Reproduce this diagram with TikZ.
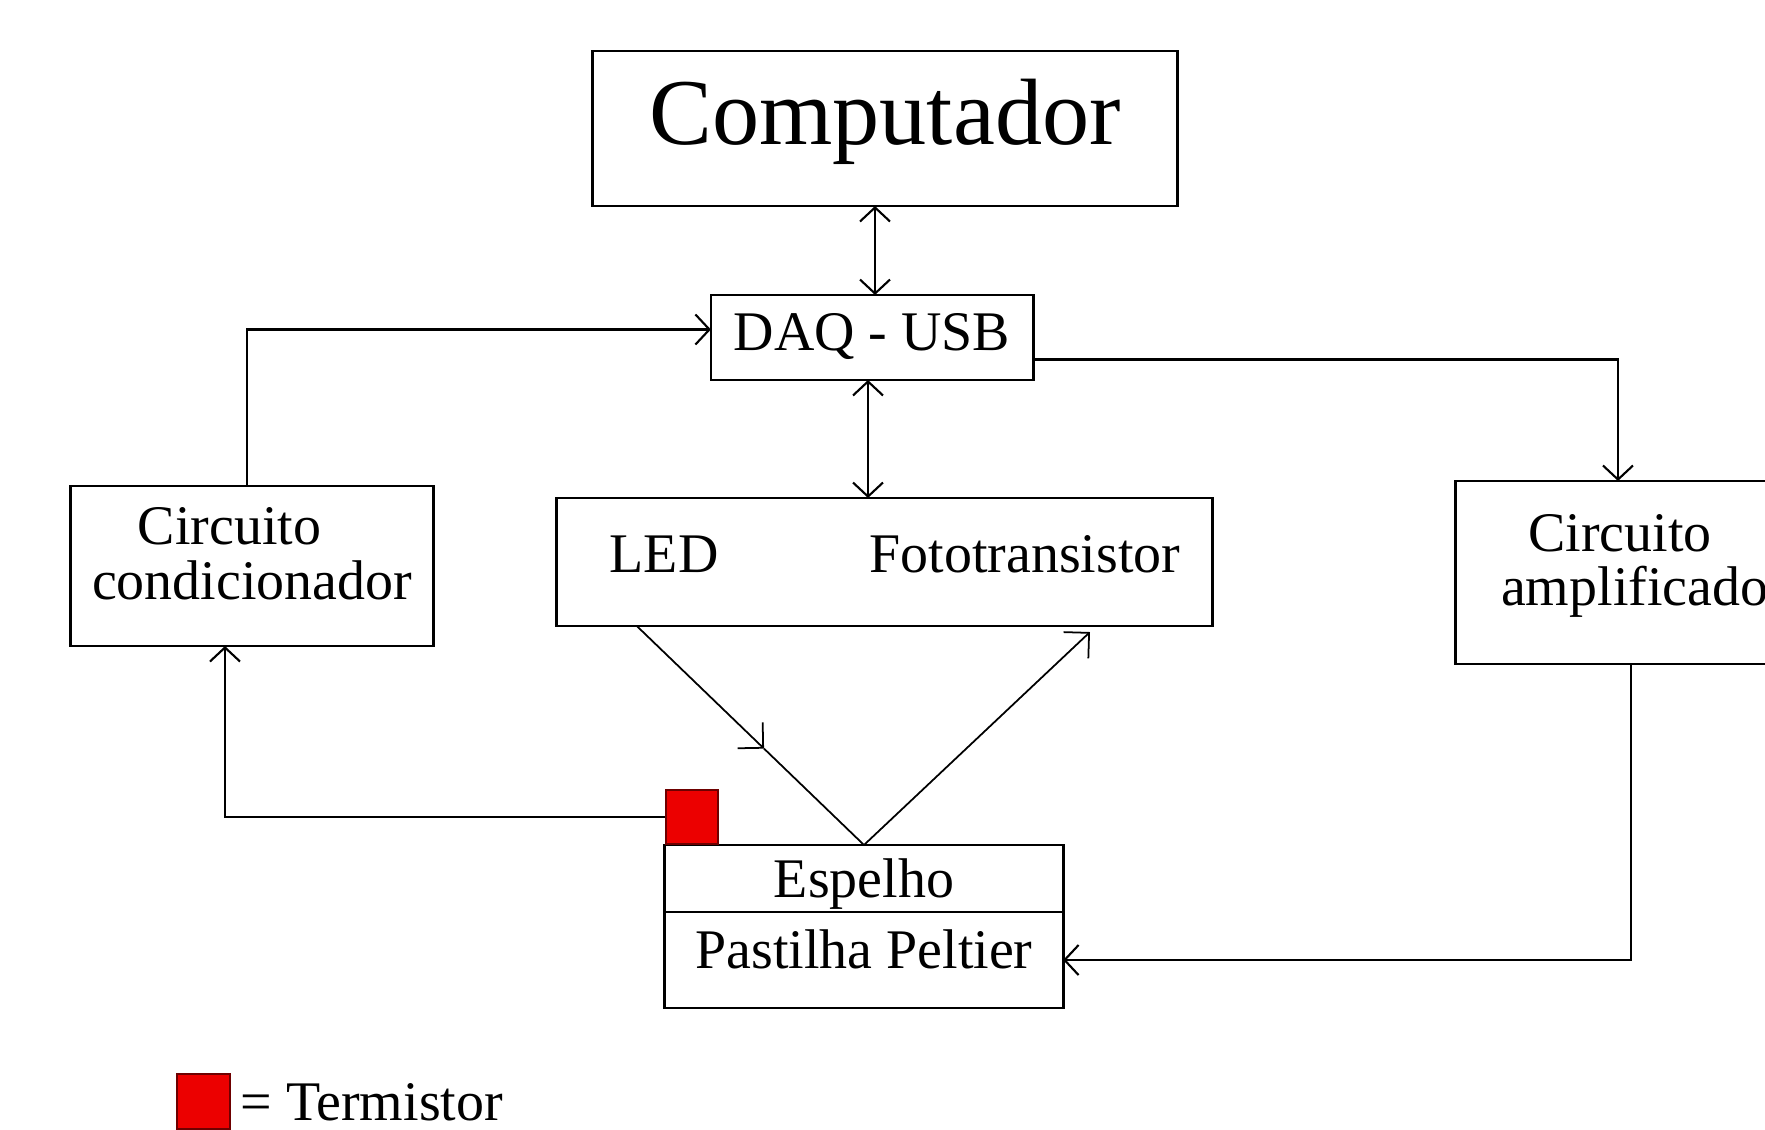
\documentclass[tikz,border=0pt]{standalone}
\usepackage{fontspec}
\setmainfont{Liberation Serif}
\usetikzlibrary{positioning, arrows.meta, calc}
\definecolor{termred}{RGB}{236,0,0}
\definecolor{termedge}{RGB}{110,0,0}

\begin{document}
\begin{tikzpicture}[
    x=0.01cm, y=-0.01cm,
    font=\fontsize{15.9pt}{15.4pt}\selectfont,
    >={Straight Barb[length=0.14cm, width=0.3cm]},
    blk/.style={draw, line width=0.8pt, inner sep=0pt, outer sep=0pt},
    lbl/.style={inner sep=0pt},
    twoline/.style={blk, align=center, text depth=0.25cm},
    flow/.style={draw, line width=0.6pt, ->},
    both/.style={draw, line width=0.6pt, <->},
    rayhead/.style={draw, line width=0.5pt, -{Straight Barb[length=0.18cm, width=0.36cm]}},
    termsq/.style={draw=termedge, fill=termred, line width=0.5pt, inner sep=0pt, minimum width=0.52cm, minimum height=0.54cm}
  ]

  \useasboundingbox (0,0) rectangle (1765,1129);
  \clip (0,0) rectangle (1765,1129);

  \node[blk, anchor=base, minimum width=5.84cm, text height=0.93cm, text depth=0.62cm, font=\fontsize{26.8pt}{32pt}\selectfont] (comp) at (885,144) {Computador};
  \node[blk, anchor=base, minimum width=3.22cm, text height=0.55cm, text depth=0.30cm] (daq) at (872,350) {DAQ - USB};
  \node[blk, minimum width=6.55cm, minimum height=1.28cm] (sensors) at (884.5,562) {};
  \node[lbl, anchor=base west] (led) at (609,572) {LED};
  \node[lbl, anchor=base west] (foto) at (869,572) {Fototransistor};
  \node[twoline, minimum width=3.62cm, minimum height=1.60cm] (cond) at (252,566) {Circuito\hspace*{0.45cm}\\condicionador};
  \node[twoline, minimum width=3.76cm, minimum height=1.83cm] (amp) at (1644,572.5) {Circuito\hspace*{0.48cm}\\amplificador};
  \node[blk, anchor=base, minimum width=3.98cm, text height=0.52cm, text depth=0.15cm] (espelho) at (864,897) {Espelho};
  \node[blk, below=0pt of espelho, minimum width=3.98cm, text height=0.56cm, text depth=0.40cm] (peltier) {Pastilha Peltier};
  \node[termsq, anchor=south west] (termo) at (espelho.north west) {};

  \node[termsq, anchor=north west, minimum width=0.53cm, minimum height=0.55cm] (legsq) at (176,1073) {};
  \node[lbl, anchor=base west] (legtxt) at (240,1120) {= Termistor};

  \coordinate (ledout) at ([xshift=0.8cm]sensors.south west);
  \coordinate (raymid) at ($(ledout)!0.56!(espelho.north)$);
  \coordinate (rayin) at (1090,632);

  \draw[both] ([xshift=0.03cm]daq.north) -- ([xshift=0.03cm]daq.north |- comp.south);
  \draw[both] ([xshift=-0.04cm]daq.south) -- ([xshift=-0.04cm]daq.south |- sensors.north);
  \draw[flow] ([xshift=-0.05cm]cond.north) |- ([yshift=0.08cm]daq.west);
  \draw[flow] ([yshift=-0.22cm]daq.east) -| ([xshift=-0.26cm]amp.north);
  \draw[flow] ([xshift=-0.13cm]amp.south) |- (peltier.east);
  \draw[flow] (termo.west) -| ([xshift=-0.27cm]cond.south);
  \draw[rayhead] (ledout) -- (raymid);
  \draw[rayhead] (raymid) -- (espelho.north) -- (rayin);

\end{tikzpicture}
\end{document}
